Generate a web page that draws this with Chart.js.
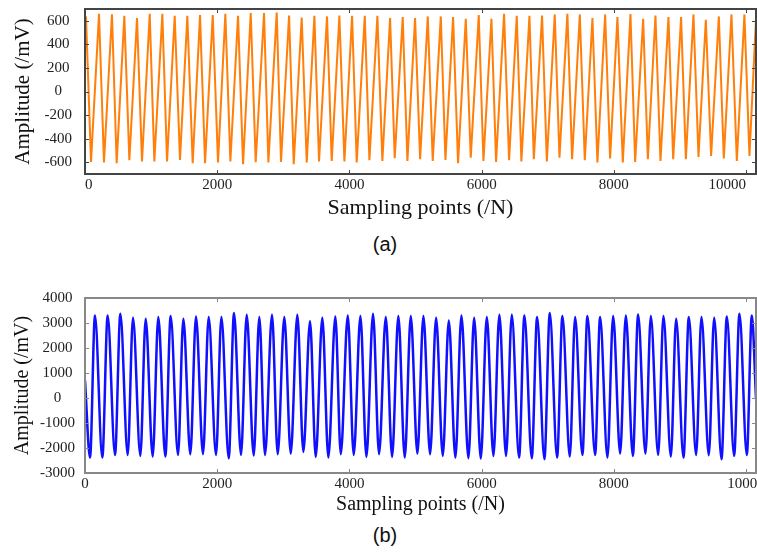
<!DOCTYPE html>
<html>
<head>
<meta charset="utf-8">
<script src="https://cdn.jsdelivr.net/npm/chart.js@4.4.1/dist/chart.umd.min.js"></script>
<style>
  html, body { margin: 0; padding: 0; background: #fff; }
  body { width: 757px; height: 554px; position: relative; overflow: hidden; }
  .panel { position: absolute; left: 0; width: 757px; }
  .caption {
    position: absolute; left: 0; width: 770px; text-align: center;
    font-family: "Liberation Sans", Arial, sans-serif; font-size: 20px; color: #111;
  }
</style>
</head>
<body>
<div class="panel" style="top:0;height:226px"><canvas id="chartA"></canvas></div>
<div class="caption" style="top:233px">(a)</div>
<div class="panel" style="top:286px;height:234px"><canvas id="chartB"></canvas></div>
<div class="caption" style="top:524px">(b)</div>

<script>
// (a) orange signal: peaks and troughs (sample index, mV)
const aStart = { x: 0, y: 430 };
const aPeakX = [15, 212, 408, 595, 787, 979, 1170, 1357, 1548, 1740, 1932, 2123, 2315, 2507,
  2708, 2900, 3087, 3278, 3470, 3661, 3848, 4040, 4232, 4423, 4615, 4806, 4993, 5185, 5382,
  5568, 5760, 5956, 6148, 6339, 6531, 6723, 6914, 7106, 7297, 7485, 7676, 7868, 8054, 8251,
  8443, 8629, 8826, 9017, 9204, 9391, 9588, 9779, 9975, 10152];
const aPeakY = [637, 659, 655, 642, 623, 659, 659, 642, 642, 648, 648, 659, 642, 665,
  665, 670, 645, 628, 642, 637, 645, 642, 642, 642, 623, 631, 623, 637, 637,
  631, 617, 648, 617, 660, 642, 642, 645, 654, 659, 654, 623, 654, 631, 657,
  617, 645, 631, 631, 654, 609, 637, 654, 654, 642];
const aTroughX = [91, 287, 479, 671, 862, 1049, 1241, 1437, 1629, 1816, 2012, 2199, 2391, 2582,
  2774, 2965, 3157, 3354, 3540, 3732, 3924, 4110, 4302, 4498, 4685, 4877, 5069, 5260, 5452,
  5643, 5835, 6027, 6218, 6415, 6601, 6789, 6986, 7177, 7368, 7560, 7751, 7943, 8135, 8322,
  8514, 8705, 8897, 9089, 9280, 9471, 9663, 9860, 10051];
const aTroughY = [-597, -603, -608, -583, -594, -594, -594, -580, -608, -608, -603, -594, -617, -600,
  -603, -597, -617, -603, -594, -589, -594, -603, -583, -589, -566, -589, -575, -589, -580,
  -608, -561, -589, -597, -583, -594, -575, -594, -561, -575, -583, -603, -569, -603, -597,
  -575, -589, -575, -575, -555, -547, -569, -589, -547];

// (b) blue signal
const bStart = { x: 0, y: 700 };
const bEnd = { x: 10150, y: 0 };
const bPeakX = [151, 343, 535, 726, 918, 1109, 1296, 1488, 1679, 1871, 2063, 2254, 2446, 2637,
  2829, 3015, 3212, 3404, 3590, 3787, 3975, 4166, 4357, 4550, 4740, 4928, 5119, 5311, 5503,
  5694, 5886, 6078, 6268, 6456, 6647, 6839, 7031, 7222, 7414, 7600, 7792, 7989, 8181, 8367,
  8559, 8750, 8942, 9134, 9325, 9517, 9709, 9900, 10087];
const bPeakY = [3303, 3303, 3372, 3211, 3171, 3237, 3277, 3171, 3263, 3237, 3237, 3398, 3331, 3237,
  3331, 3237, 3331, 3075, 3211, 3263, 3303, 3277, 3372, 3237, 3277, 3277, 3277, 3211, 3103,
  3303, 3211, 3237, 3331, 3331, 3303, 3237, 3398, 3277, 3237, 3277, 3237, 3277, 3303, 3344,
  3277, 3277, 3171, 3237, 3237, 3211, 3263, 3372, 3303];
const bTroughX = [76, 262, 454, 646, 837, 1024, 1215, 1407, 1593, 1785, 1982, 2174, 2360, 2552,
  2723, 2915, 3112, 3303, 3490, 3681, 3869, 4065, 4257, 4448, 4645, 4837, 5028, 5220, 5412,
  5603, 5800, 5987, 6178, 6369, 6566, 6758, 6949, 7141, 7333, 7524, 7716, 7903, 8095, 8287,
  8478, 8670, 8862, 9053, 9244, 9436, 9628, 9819, 10011];
const bTroughY = [-2384, -2384, -2276, -2276, -2316, -2343, -2343, -2276, -2250, -2250, -2276, -2410, -2276, -2300,
  -2276, -2250, -2223, -2156, -2357, -2384, -2250, -2276, -2357, -2250, -2357, -2384, -2223, -2250, -2316,
  -2384, -2410, -2424, -2316, -2316, -2384, -2410, -2450, -2384, -2343, -2276, -2276, -2384, -2223, -2316,
  -2223, -2276, -2343, -2384, -2276, -2290, -2450, -2316, -2276];

const xTicks = [0, 2000, 4000, 6000, 8000, 10000];
const aYTicks = [-600, -400, -200, 0, 200, 400, 600];
const bYTicks = [-3000, -2000, -1000, 0, 1000, 2000, 3000, 4000];

function buildPoints(start, px, py, tx, ty, end) {
  const pts = [start];
  px.forEach((x, i) => pts.push({ x, y: py[i] }));
  tx.forEach((x, i) => pts.push({ x, y: ty[i] }));
  if (end) pts.push(end);
  return pts.sort((a, b) => a.x - b.x);
}

// frame with inward tick marks on all four sides
const boxPlugin = {
  id: "box",
  afterDatasetsDraw(chart, args, opts) {
    const { ctx, chartArea: a, scales } = chart;
    ctx.save();
    ctx.strokeStyle = opts.color;
    ctx.lineWidth = opts.width;
    ctx.strokeRect(a.left, a.top, a.right - a.left, a.bottom - a.top);
    ctx.lineWidth = 1;
    ctx.beginPath();
    scales.x.ticks.forEach((t) => {
      const p = Math.round(scales.x.getPixelForValue(t.value)) + 0.5;
      ctx.moveTo(p, a.bottom); ctx.lineTo(p, a.bottom - 4);
      ctx.moveTo(p, a.top); ctx.lineTo(p, a.top + 4);
    });
    scales.y.ticks.forEach((t) => {
      const p = Math.round(scales.y.getPixelForValue(t.value)) + 0.5;
      ctx.moveTo(a.left, p); ctx.lineTo(a.left + 4, p);
      ctx.moveTo(a.right, p); ctx.lineTo(a.right - 4, p);
    });
    ctx.stroke();
    ctx.restore();
  },
};

function makeChart(id, cfg) {
  const serif = "'Liberation Serif', 'Times New Roman', serif";
  return new Chart(document.getElementById(id), {
    type: "line",
    plugins: [boxPlugin],
    data: {
      datasets: [{
        data: cfg.points,
        borderColor: cfg.color,
        borderWidth: cfg.lineWidth,
        pointRadius: 0,
        tension: cfg.tension,
        cubicInterpolationMode: cfg.tension ? "monotone" : "default",
        fill: false,
      }],
    },
    options: {
      responsive: true,
      maintainAspectRatio: false,
      animation: false,
      layout: { padding: { top: cfg.padTop, right: 1, left: 0, bottom: 0 } },
      plugins: {
        legend: { display: false },
        tooltip: { enabled: false },
        box: { color: cfg.frame, width: 2 },
      },
      scales: {
        x: {
          type: "linear",
          min: 0,
          max: 10150,
          grid: { display: false, drawTicks: false, tickLength: 0 },
          border: { display: false },
          afterBuildTicks: (s) => { s.ticks = xTicks.map((v) => ({ value: v })); },
          afterFit: (s) => { s.height = cfg.xHeight; s.paddingLeft = 0; s.paddingRight = 0; },
          ticks: {
            font: { family: serif, size: 15 },
            color: "#222",
            padding: 2,
            maxRotation: 0,
            autoSkip: false,
            align: cfg.xAlign,
            callback: (v) => String(v),
          },
          title: {
            display: true,
            text: "Sampling points (/N)",
            font: { family: serif, size: cfg.xTitleSize },
            color: "#111",
            padding: { top: 0, bottom: cfg.xTitlePad },
          },
        },
        y: {
          min: cfg.yMin,
          max: cfg.yMax,
          grid: { display: false, drawTicks: false, tickLength: 0 },
          border: { display: false },
          afterBuildTicks: (s) => { s.ticks = cfg.yTicks.map((v) => ({ value: v })); },
          afterFit: (s) => { s.width = 85; s.paddingTop = 0; s.paddingBottom = 0; },
          ticks: {
            font: { family: serif, size: 15 },
            color: "#222",
            padding: cfg.yTickPad,
            crossAlign: "center",
            callback: (v) => String(v),
          },
          title: {
            display: true,
            text: "Amplitude (/mV)",
            font: { family: serif, size: cfg.yTitleSize },
            color: "#111",
            padding: { top: 11, bottom: 0 },
          },
        },
      },
    },
  });
}

makeChart("chartA", {
  points: buildPoints(aStart, aPeakX, aPeakY, aTroughX, aTroughY),
  color: "#ff7f0a",
  lineWidth: 2,
  tension: 0,
  frame: "#444",
  padTop: 9,
  xHeight: 52,
  xAlign: "inner",
  xTitleSize: 22,
  xTitlePad: 5,
  yMin: -700,
  yMax: 700,
  yTicks: aYTicks,
  yTickPad: 13,
  yTitleSize: 21,
});

makeChart("chartB", {
  points: buildPoints(bStart, bPeakX, bPeakY, bTroughX, bTroughY, bEnd),
  color: "#1010ff",
  lineWidth: 2.5,
  tension: 0.4,
  frame: "#888",
  padTop: 12,
  xHeight: 47,
  xAlign: "center",
  xTitleSize: 20,
  xTitlePad: 3,
  yMin: -3000,
  yMax: 4000,
  yTicks: bYTicks,
  yTickPad: 10,
  yTitleSize: 20,
});
</script>
</body>
</html>
